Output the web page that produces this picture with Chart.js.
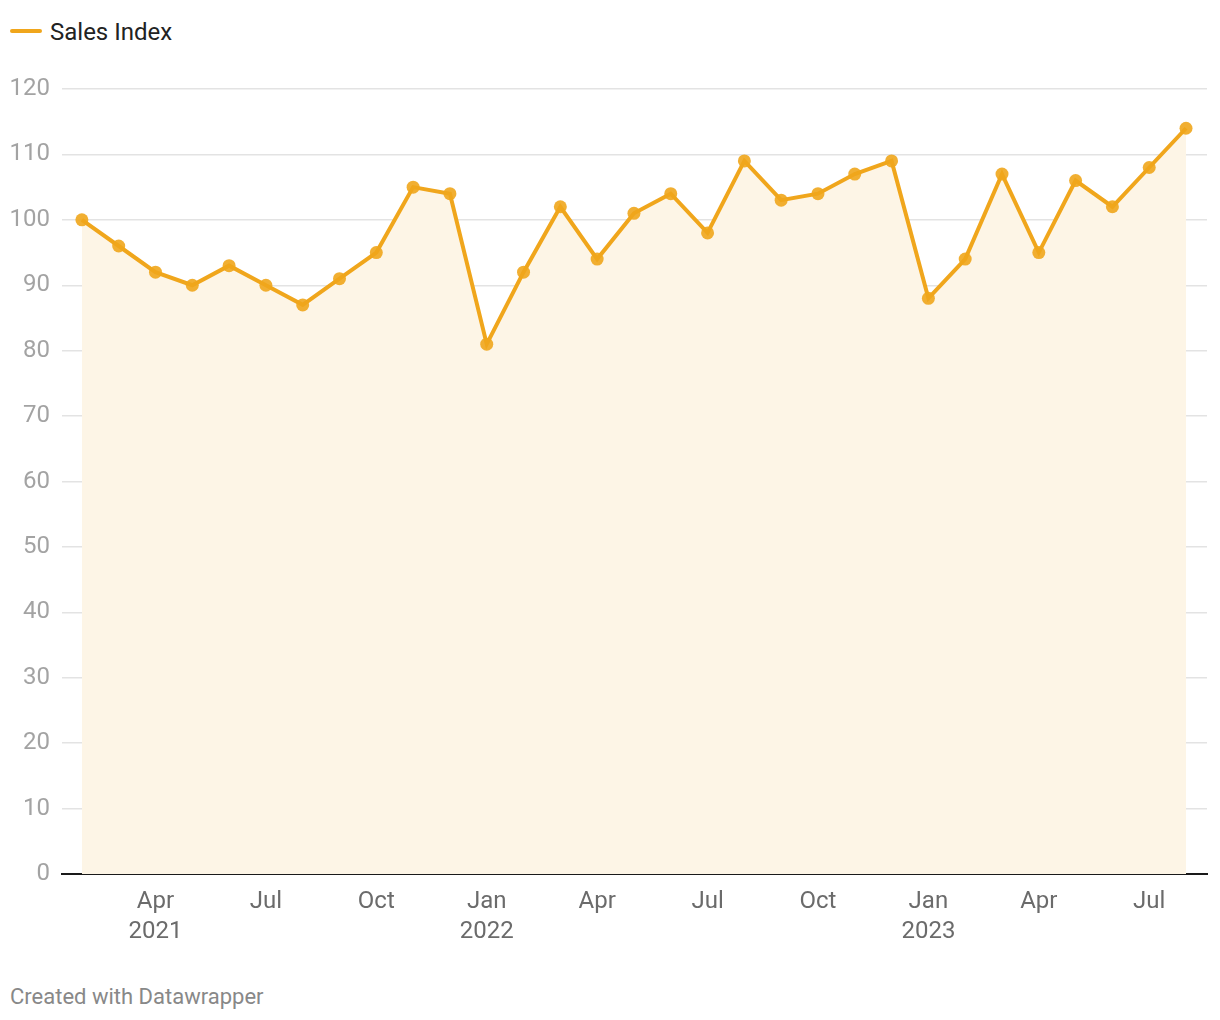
<!DOCTYPE html>
<html lang="en">
<head>
  <meta charset="UTF-8">
  <title>Sales Index</title>
  <script src="https://cdn.jsdelivr.net/npm/chart.js"></script>
  <style>
    body {
      margin: 0;
      background: #fff;
      font-family: Roboto, sans-serif;
    }
    .wrap {
      position: relative;
      width: 1220px;
      height: 1020px;
    }
    .legend {
      position: absolute;
      left: 10px;
      top: 18px;
      font-size: 24px;
      color: #222;
    }
    .legend .swatch {
      display: inline-block;
      width: 32px;
      height: 4px;
      border-radius: 2px;
      background: #f0a61c;
      vertical-align: middle;
      margin-right: 8px;
      position: relative;
      top: -3px;
    }
    .chart-box {
      position: absolute;
      left: 0;
      top: 1px;
      width: 1220px;
      height: 953px;
    }
    .footer {
      position: absolute;
      left: 10px;
      top: 984px;
      font-size: 22px;
      color: #888;
    }
  </style>
</head>
<body>
  <div class="wrap">
    <div class="legend"><span class="swatch"></span>Sales Index</div>
    <div class="chart-box"><canvas id="salesChart"></canvas></div>
    <div class="footer">Created with Datawrapper</div>
  </div>
  <script>
    // monthly values, Jan 2021 (month end) to Jul 2023
    const months = [
      '2021-01', '2021-02', '2021-03', '2021-04', '2021-05', '2021-06',
      '2021-07', '2021-08', '2021-09', '2021-10', '2021-11', '2021-12',
      '2022-01', '2022-02', '2022-03', '2022-04', '2022-05', '2022-06',
      '2022-07', '2022-08', '2022-09', '2022-10', '2022-11', '2022-12',
      '2023-01', '2023-02', '2023-03', '2023-04', '2023-05', '2023-06',
      '2023-07'
    ];
    const salesIndex = [
      100, 96, 92, 90, 93, 90, 87, 91, 95, 105, 104, 81,
      92, 102, 94, 101, 104, 98, 109, 103, 104, 107, 109, 88,
      94, 107, 95, 106, 102, 108, 114
    ];
    // x tick positions (month index) and their labels
    const tickPositions = [2, 5, 8, 11, 14, 17, 20, 23, 26, 29];
    const tickLabels = [
      ['Apr', '2021'], 'Jul', 'Oct', ['Jan', '2022'], 'Apr', 'Jul', 'Oct',
      ['Jan', '2023'], 'Apr', 'Jul'
    ];
    const yTicks = [0, 10, 20, 30, 40, 50, 60, 70, 80, 90, 100, 110, 120];

    const points = salesIndex.map((v, i) => ({ x: i, y: v }));

    const ctx = document.getElementById('salesChart').getContext('2d');
    new Chart(ctx, {
      type: 'line',
      data: {
        datasets: [{
          label: 'Sales Index',
          data: points,
          borderColor: '#f0a61c',
          borderWidth: 4,
          backgroundColor: '#fdf5e6',
          fill: 'origin',
          tension: 0,
          pointRadius: 6.5,
          pointBackgroundColor: 'rgba(240,166,28,0.9)',
          pointBorderWidth: 0
        }]
      },
      options: {
        responsive: true,
        maintainAspectRatio: false,
        animation: false,
        layout: { padding: { top: 88, right: 13, bottom: 0, left: 0 } },
        plugins: {
          legend: { display: false },
          tooltip: { enabled: false }
        },
        scales: {
          x: {
            type: 'linear',
            min: -0.54,
            max: 30.57,
            afterBuildTicks: (scale) => {
              scale.ticks = tickPositions.map(v => ({ value: v }));
            },
            afterFit: (scale) => { scale.height = 80; },
            ticks: {
              autoSkip: false,
              maxRotation: 0,
              padding: 13,
              color: '#6b6b6b',
              font: { family: 'Roboto', size: 24, lineHeight: 1.25 },
              callback: (value) => tickLabels[tickPositions.indexOf(value)]
            },
            grid: { display: false, drawTicks: false },
            border: { display: true, color: '#1a1a1a', width: 2 }
          },
          y: {
            min: 0,
            max: 120,
            afterBuildTicks: (scale) => {
              scale.ticks = yTicks.map(v => ({ value: v }));
            },
            afterFit: (scale) => { scale.width = 62; },
            ticks: {
              padding: 12,
              color: '#a3a3a3',
              font: { family: 'Roboto', size: 24 }
            },
            grid: { color: '#e3e3e3', lineWidth: 1.5, drawTicks: false },
            border: { display: false }
          }
        }
      }
    });
  </script>
</body>
</html>
